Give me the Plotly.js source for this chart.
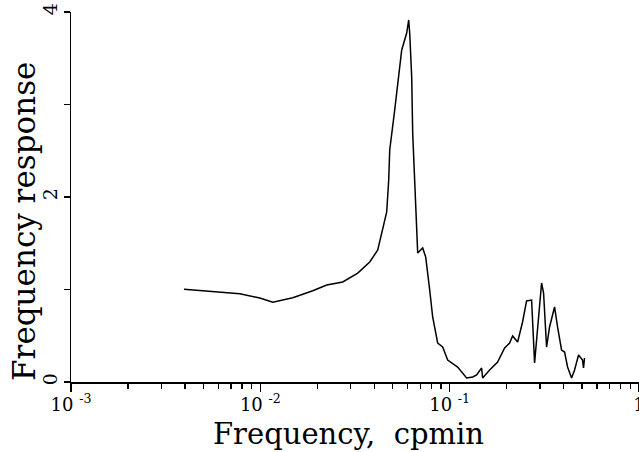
<!DOCTYPE html>
<html>
<head>
<meta charset="utf-8">
<script src="https://cdn.plot.ly/plotly-3.0.1.min.js"></script>
<style>html,body{margin:0;padding:0;background:#fff;}#chart{width:639px;height:452px;}</style>
</head>
<body>
<div id="chart"></div>
<script>
// Frequency (cpmin) and frequency response
const frequency = [
  0.00395, 0.00497, 0.00611, 0.00779, 0.00994, 0.01164, 0.01484, 0.01892, 0.02243, 0.02725,
  0.03269, 0.03783, 0.04170, 0.04430, 0.04650, 0.04765, 0.04824, 0.05126, 0.05446, 0.05581,
  0.05930, 0.06076, 0.06150, 0.06302, 0.06378, 0.06536, 0.06617, 0.06779, 0.07203, 0.07471,
  0.07842, 0.08133, 0.08643, 0.09186, 0.09759, 0.1102, 0.1229, 0.1323, 0.1388, 0.1475,
  0.1493, 0.1626, 0.1792, 0.1951, 0.2073, 0.2150, 0.2285, 0.2427, 0.2548, 0.2709,
  0.2809, 0.2913, 0.3058, 0.3133, 0.3250, 0.3370, 0.3581, 0.3714, 0.3899, 0.4045,
  0.4195, 0.4405, 0.4568, 0.4795, 0.5031, 0.5093, 0.5155
];
const response = [
  1.002, 0.984, 0.973, 0.955, 0.908, 0.862, 0.911, 0.987, 1.049, 1.081,
  1.178, 1.297, 1.427, 1.643, 1.838, 2.184, 2.508, 2.941, 3.405, 3.589,
  3.773, 3.914, 3.773, 3.297, 2.692, 2.151, 1.784, 1.395, 1.449, 1.351,
  0.995, 0.703, 0.422, 0.378, 0.238, 0.162, 0.043, 0.054, 0.076, 0.151,
  0.043, 0.130, 0.216, 0.368, 0.422, 0.497, 0.432, 0.649, 0.876, 0.886,
  0.205, 0.595, 1.070, 0.962, 0.378, 0.595, 0.811, 0.595, 0.346, 0.324,
  0.162, 0.043, 0.130, 0.292, 0.238, 0.151, 0.259
];
const xTickVals = [0.001, 0.01, 0.1, 1];
const xTickText = ['10 <sup>-3</sup>', '10 <sup>-2</sup>', '10 <sup>-1</sup>', '1'];
const yTickVals = [0, 2, 4];
const yTickText = ['0', '2', '4'];
const yMinorVals = [1, 3];
const xTitle = 'Frequency,\u00a0\u00a0cpmin';
const yTitle = 'Frequency\u00a0response';

// minor tick positions (2..9 within each decade)
const minorX = [];
[0.001, 0.01, 0.1].forEach(d => { for (let m = 2; m <= 9; m++) minorX.push(d * m); });

const serif = 'DejaVu Serif, serif';

const data = [{
  type: 'scatter', mode: 'lines',
  x: frequency, y: response,
  line: {color: '#000', width: 1.5},
  hoverinfo: 'skip'
}];

const layout = {
  width: 639, height: 452,
  margin: {l: 71, r: 0, t: 12, b: 70, autoexpand: false},
  paper_bgcolor: '#fff', plot_bgcolor: '#fff',
  showlegend: false,
  font: {family: serif, color: '#000'},
  xaxis: {
    type: 'log', range: [-3, 0],
    showline: true, linecolor: '#000', linewidth: 2,
    showgrid: false, zeroline: false,
    tickmode: 'array', tickvals: xTickVals, ticktext: xTickText,
    ticks: 'outside', ticklen: 8, tickwidth: 1.5, tickcolor: '#000',
    ticklabeloverflow: 'allow',
    ticklabelstandoff: -3,
    tickfont: {family: serif, size: 18, color: '#000'},
    minor: {tickmode: 'array', tickvals: minorX, ticks: 'outside', ticklen: 5, tickwidth: 1.2, tickcolor: '#000', showgrid: false}
  },
  yaxis: {
    range: [0, 4],
    showline: true, linecolor: '#000', linewidth: 1.5,
    showgrid: false, zeroline: false,
    tickmode: 'array', tickvals: yTickVals, ticktext: yTickText,
    ticks: 'outside', ticklen: 6, tickwidth: 1.2, tickcolor: '#000',
    ticklabelstandoff: -1,
    tickangle: -90,
    tickfont: {family: serif, size: 19, color: '#000'},
    minor: {tickmode: 'array', tickvals: yMinorVals, ticks: 'outside', ticklen: 6, tickwidth: 1.2, tickcolor: '#000', showgrid: false}
  },
  annotations: [
    {text: xTitle, xref: 'paper', yref: 'paper', x: 0.4886, y: -0.14,
     xanchor: 'center', yanchor: 'middle', showarrow: false,
     font: {family: serif, size: 29, color: '#000'}},
    {text: yTitle, xref: 'paper', yref: 'paper', x: -0.083, y: 0.435,
     xanchor: 'center', yanchor: 'middle', textangle: -90, showarrow: false,
     font: {family: serif, size: 31, color: '#000'}}
  ]
};

Plotly.newPlot('chart', data, layout, {staticPlot: true, displayModeBar: false});
</script>
</body>
</html>
